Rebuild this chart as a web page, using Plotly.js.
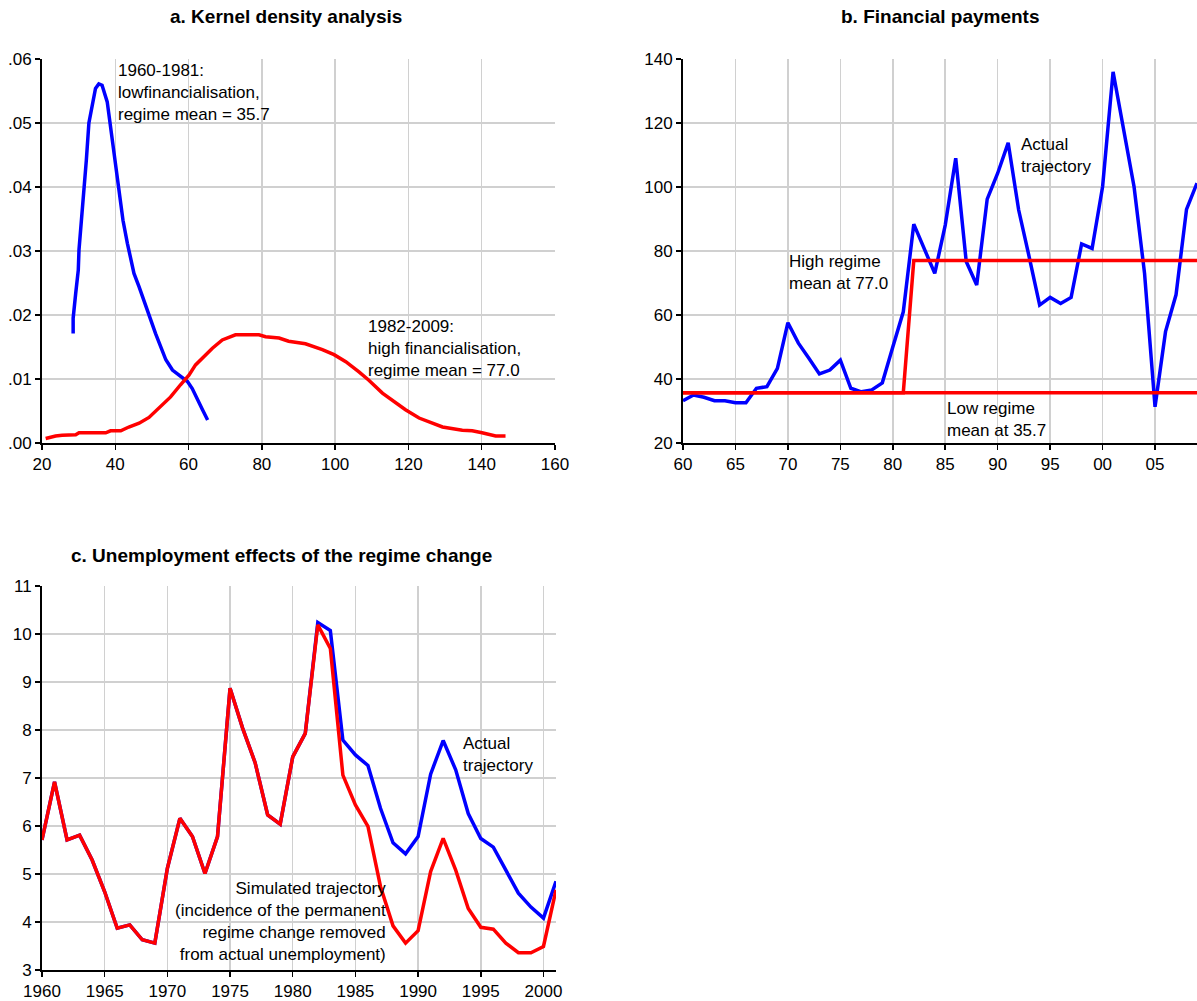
<!DOCTYPE html>
<html>
<head>
<meta charset="utf-8">
<script src="https://cdn.plot.ly/plotly-3.0.1.min.js"></script>
<style>html,body{margin:0;padding:0;background:#fff;}#chart{width:1197px;height:1001px;}</style>
</head>
<body>
<div id="chart"></div>
<script>
// ---- Panel a: kernel density estimates ----
const kdeLowX = [28.5, 28.5, 29.2, 29.9, 30.1, 30.8, 31.5, 32.1, 32.8, 33.9, 34.6, 35.5, 36.4, 37.8, 39.2, 39.6, 40.5, 40.9, 42.1, 43.3, 44.2, 45.1, 46.5, 48.3, 49.7, 51.0, 52.4, 53.8, 55.6, 57.9, 59.7, 61.0, 62.4, 63.8, 65.2];
const kdeLowY = [.0171, .0195, .0234, .0270, .0302, .0348, .0406, .0442, .0500, .0531, .0554, .0561, .0559, .0533, .0473, .0453, .0411, .0390, .0348, .0312, .0291, .0265, .0244, .0213, .0192, .0171, .0150, .0130, .0114, .0104, .0096, .0085, .0067, .0052, .0036];
const kdeHighX = [21.0, 23.7, 25.5, 29.2, 30.1, 37.4, 38.7, 41.5, 43.7, 46.5, 49.2, 51.9, 55.1, 57.8, 60.1, 61.9, 63.7, 66.5, 69.2, 72.8, 79.2, 81.0, 84.7, 87.3, 91.9, 96.5, 99.7, 102.9, 106.5, 109.2, 112.9, 116.1, 119.2, 122.9, 129.3, 134.7, 137.4, 140.1, 143.8, 146.5];
const kdeHighY = [.0007, .0011, .0012, .0013, .0016, .0016, .0019, .0019, .0025, .0031, .0040, .0054, .0072, .0091, .0106, .0122, .0132, .0148, .0161, .0169, .0169, .0166, .0164, .0159, .0155, .0146, .0138, .0127, .0111, .0098, .0078, .0065, .0052, .0039, .0025, .0020, .0019, .0016, .0011, .0011];
const densTickVals = [0, .01, .02, .03, .04, .05, .06];
const densTickText = [".00", ".01", ".02", ".03", ".04", ".05", ".06"];
const densGridVals = [.01, .02, .03, .04, .05];
const densXTicks = [20, 40, 60, 80, 100, 120, 140, 160];

// ---- Panel b: financial payments ----
const payYears = [1960,1961,1962,1963,1964,1965,1966,1967,1968,1969,1970,1971,1972,1973,1974,1975,1976,1977,1978,1979,1980,1981,1982,1983,1984,1985,1986,1987,1988,1989,1990,1991,1992,1993,1994,1995,1996,1997,1998,1999,2000,2001,2002,2003,2004,2005,2006,2007,2008,2009];
const payActual = [33.2, 35.0, 34.3, 33.2, 33.2, 32.6, 32.6, 37.1, 37.6, 43.3, 57.6, 51.2, 46.5, 41.6, 42.8, 45.9, 37.1, 36.0, 36.6, 38.8, 50.0, 61.0, 88.4, 80.5, 73.0, 88.1, 109.0, 76.7, 69.4, 96.2, 104.3, 113.8, 92.8, 78.2, 63.1, 65.5, 63.6, 65.5, 82.2, 80.8, 100.1, 136.0, 117.8, 100.1, 73.0, 31.3, 54.8, 66.3, 93.0, 101.2];
const lowRegimeMean = 35.7;
const highRegimeMean = 77.0;
const regimeBreakYear = 1982;
const payTickVals = [1960,1965,1970,1975,1980,1985,1990,1995,2000,2005];
const payTickText = ["60","65","70","75","80","85","90","95","00","05"];
const payYTicks = [20, 40, 60, 80, 100, 120, 140];
const payYGrid = [40, 60, 80, 100, 120];

// ---- Panel c: unemployment ----
const unYears = [1960,1961,1962,1963,1964,1965,1966,1967,1968,1969,1970,1971,1972,1973,1974,1975,1976,1977,1978,1979,1980,1981,1982,1983,1984,1985,1986,1987,1988,1989,1990,1991,1992,1993,1994,1995,1996,1997,1998,1999,2000,2001];
const unActual = [5.71, 6.92, 5.71, 5.81, 5.29, 4.63, 3.87, 3.94, 3.63, 3.56, 5.12, 6.16, 5.78, 5.01, 5.78, 8.87, 8.04, 7.32, 6.23, 6.04, 7.44, 7.93, 10.24, 10.07, 7.79, 7.48, 7.26, 6.37, 5.65, 5.42, 5.78, 7.08, 7.78, 7.17, 6.26, 5.74, 5.56, 5.08, 4.60, 4.31, 4.08, 4.85];
const unSimulated = [5.71, 6.92, 5.71, 5.81, 5.29, 4.63, 3.87, 3.94, 3.63, 3.56, 5.12, 6.16, 5.78, 5.01, 5.78, 8.87, 8.04, 7.32, 6.23, 6.04, 7.44, 7.93, 10.19, 9.70, 7.06, 6.44, 5.99, 4.74, 3.92, 3.56, 3.82, 5.05, 5.74, 5.08, 4.28, 3.89, 3.85, 3.56, 3.36, 3.36, 3.49, 4.67];
const unXTicks = [1960,1965,1970,1975,1980,1985,1990,1995,2000];
const unYTicks = [3,4,5,6,7,8,9,10,11];
const unYGrid = [4,5,6,7,8,9,10];

const FONT = "Liberation Sans, Arial, sans-serif";
const BLUE = "#0000ff", RED = "#ff0000";
const LW = 3.5;
const GRID = "#d0d0d0";

const regimeSeries = payYears.map(y => y < regimeBreakYear ? lowRegimeMean : highRegimeMean);
const lowSeries = payYears.map(() => lowRegimeMean);

const traces = [
  {x: kdeLowX, y: kdeLowY, xaxis: "x", yaxis: "y", mode: "lines", line: {color: BLUE, width: LW}},
  {x: kdeHighX, y: kdeHighY, xaxis: "x", yaxis: "y", mode: "lines", line: {color: RED, width: LW}},
  {x: payYears, y: payActual, xaxis: "x2", yaxis: "y2", mode: "lines", line: {color: BLUE, width: LW}},
  {x: payYears, y: lowSeries, xaxis: "x2", yaxis: "y2", mode: "lines", line: {color: RED, width: LW}},
  {x: payYears, y: regimeSeries, xaxis: "x2", yaxis: "y2", mode: "lines", line: {color: RED, width: LW}},
  {x: unYears, y: unActual, xaxis: "x3", yaxis: "y3", mode: "lines", line: {color: BLUE, width: LW}},
  {x: unYears, y: unSimulated, xaxis: "x3", yaxis: "y3", mode: "lines", line: {color: RED, width: LW}}
];

const axisCommon = {
  showline: true, linecolor: "#000", linewidth: 2,
  showgrid: true, gridcolor: GRID, gridwidth: 1.5,
  zeroline: false, ticks: "outside", ticklen: 5, tickwidth: 1.5, tickcolor: "#000",
  tickfont: {family: FONT, size: 17, color: "#000"}, mirror: false, fixedrange: true
};
function ax(extra) { return Object.assign({}, axisCommon, extra); }
function yax(extra, gridVals) {
  return Object.assign({}, axisCommon, {showgrid: false,
    minor: {tickvals: gridVals, showgrid: true, gridcolor: GRID, gridwidth: 1.5, ticks: ""}}, extra);
}

const W = 1197, H = 1001;
const px = v => v / W, py = v => 1 - v / H;
const AF = 17, TF = 19;

const layout = {
  width: W, height: H,
  margin: {l: 0, r: 0, t: 0, b: 0},
  paper_bgcolor: "#fff", plot_bgcolor: "#fff",
  showlegend: false,
  font: {family: FONT, size: AF, color: "#000"},
  xaxis: ax({domain: [px(42), px(555)], range: [20, 160], tickvals: densXTicks, anchor: "y"}),
  yaxis: yax({domain: [py(443), py(59)], range: [0, 0.06], tickvals: densTickVals, ticktext: densTickText, anchor: "x"}, densGridVals),
  xaxis2: ax({domain: [px(683), 1], range: [1960, 2009], tickvals: payTickVals, ticktext: payTickText, anchor: "y2"}),
  yaxis2: yax({domain: [py(443), py(59)], range: [20, 140], tickvals: payYTicks, anchor: "x2"}, payYGrid),
  xaxis3: ax({domain: [px(42), px(556)], range: [1960, 2001], tickvals: unXTicks, anchor: "y3"}),
  yaxis3: yax({domain: [py(970), py(586)], range: [3, 11], tickvals: unYTicks, anchor: "x3"}, unYGrid),
  annotations: [
    {text: "<b>a. Kernel density analysis</b>", xref: "paper", yref: "paper", x: px(286), y: py(17), xanchor: "center", yanchor: "middle", showarrow: false, font: {size: TF}},
    {text: "<b>b. Financial payments</b>", xref: "paper", yref: "paper", x: px(940), y: py(17), xanchor: "center", yanchor: "middle", showarrow: false, font: {size: TF}},
    {text: "<b>c. Unemployment effects of the regime change</b>", xref: "paper", yref: "paper", x: px(281), y: py(555), xanchor: "center", yanchor: "middle", showarrow: false, font: {size: TF}},
    {text: "1960-1981:<br>lowfinancialisation,<br>regime mean = 35.7", xref: "paper", yref: "paper", x: px(116), y: py(59), xanchor: "left", yanchor: "top", align: "left", showarrow: false, font: {size: AF}},
    {text: "1982-2009:<br>high financialisation,<br>regime mean = 77.0", xref: "x", yref: "y", x: 108.5, y: 0.0200, xanchor: "left", yanchor: "top", align: "left", showarrow: false, font: {size: AF}},
    {text: "High regime<br>mean at 77.0", xref: "x2", yref: "y2", x: 1969.9, y: 80.3, xanchor: "left", yanchor: "top", align: "left", showarrow: false, font: {size: AF}},
    {text: "Actual<br>trajectory", xref: "x2", yref: "y2", x: 1992.0, y: 117.0, xanchor: "left", yanchor: "top", align: "left", showarrow: false, font: {size: AF}},
    {text: "Low regime<br>mean at 35.7", xref: "x2", yref: "y2", x: 1985.0, y: 34.4, xanchor: "left", yanchor: "top", align: "left", showarrow: false, font: {size: AF}},
    {text: "Actual<br>trajectory", xref: "x3", yref: "y3", x: 1993.4, y: 7.95, xanchor: "left", yanchor: "top", align: "left", showarrow: false, font: {size: AF}},
    {text: "Simulated trajectory<br>(incidence of the permanent<br>regime change removed<br>from actual unemployment)", xref: "x3", yref: "y3", x: 1987.6, y: 4.93, xanchor: "right", yanchor: "top", align: "right", showarrow: false, font: {size: AF}}
  ]
};

Plotly.newPlot("chart", traces, layout, {staticPlot: true, displayModeBar: false});
</script>
</body>
</html>
